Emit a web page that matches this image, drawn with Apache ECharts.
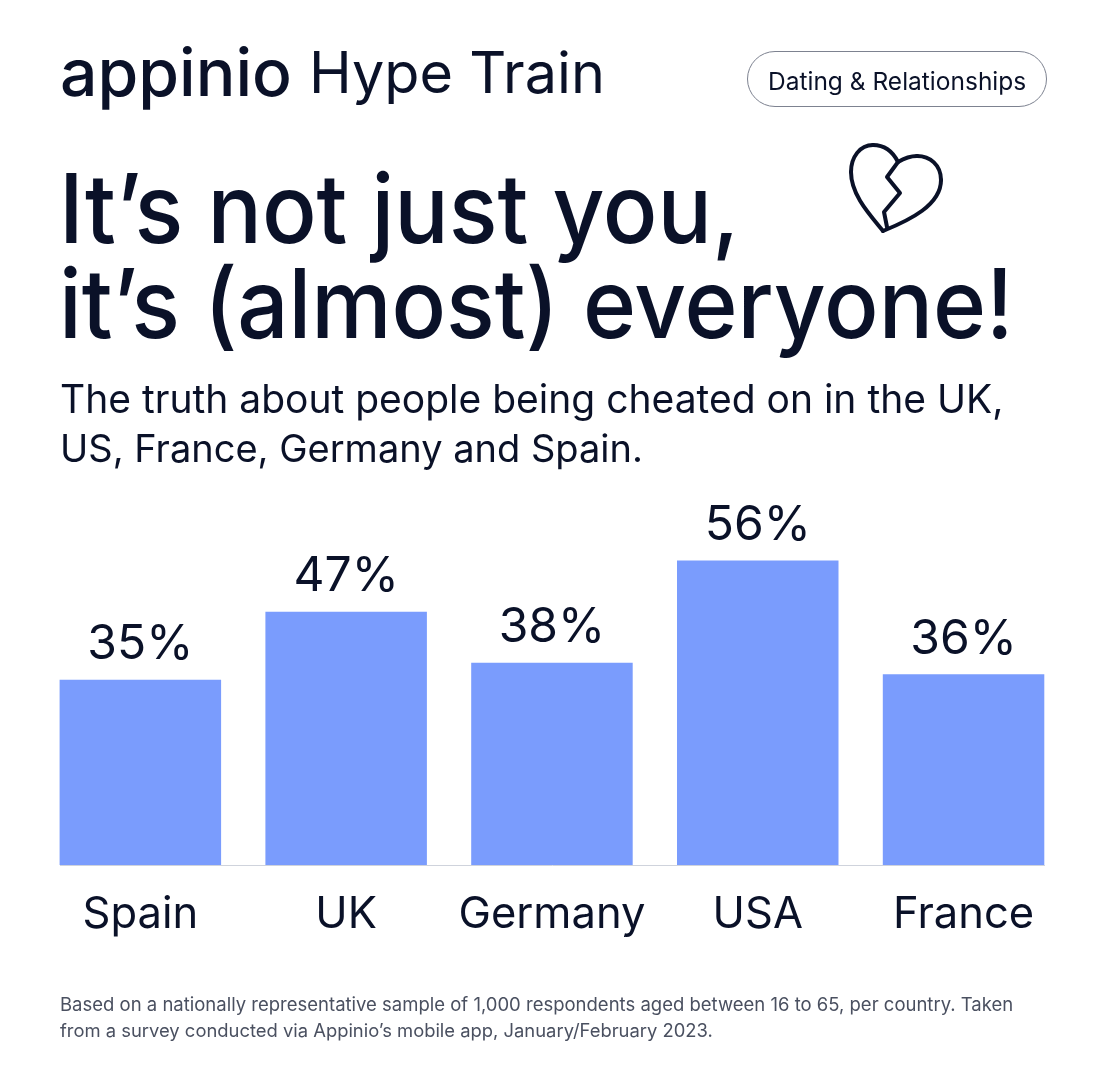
<!DOCTYPE html>
<html>
<head>
<meta charset="utf-8">
<script src="https://cdn.jsdelivr.net/npm/echarts@6/dist/echarts.min.js"></script>
<style>
  html, body { margin: 0; padding: 0; background: #fff; }
  #main { width: 1106px; height: 1092px; }
</style>
</head>
<body>
<div id="main"></div>
<script>
  const categories = ["Spain", "UK", "Germany", "USA", "France"];
  const values = [35, 47, 38, 56, 36];

  const ink = "#0a1128";
  const font = "Inter";

  // all the text around the chart
  function label(text, x, y, size, weight, color, scaleX) {
    return {
      type: "text",
      x: x,
      y: y,
      scaleX: scaleX || 1,
      style: {
        text: text,
        fill: color || ink,
        font: weight + " " + size + "px " + font
      }
    };
  }

  // broken heart icon, stroked pieces
  const heartStyle = { fill: "none", stroke: ink, lineWidth: 4, lineJoin: "round", lineCap: "round" };
  function curve(x1, y1, cpx1, cpy1, cpx2, cpy2, x2, y2) {
    return {
      type: "bezierCurve",
      shape: { x1, y1, cpx1, cpy1, cpx2, cpy2, x2, y2 },
      style: heartStyle
    };
  }

  let myChart = echarts.init(document.getElementById("main"));
  let option = {
    backgroundColor: "#ffffff",
    animation: false,
    grid: { left: 37.45, right: 39.55, top: 537.8, bottom: 227 },
    xAxis: {
      type: "category",
      data: categories,
      axisLine: { show: false },
      axisTick: { show: false },
      axisLabel: { color: ink, fontFamily: font, fontSize: 43.5, margin: 28, interval: 0 }
    },
    yAxis: {
      type: "value",
      min: 2.4,
      max: 60,
      show: false
    },
    series: [
      {
        type: "bar",
        data: values,
        barWidth: 161.5,
        itemStyle: { color: "#7a9cfd" },
        label: {
          show: true,
          position: "top",
          distance: 11,
          formatter: "{c}%",
          color: ink,
          fontFamily: font,
          fontSize: 48
        }
      }
    ],
    graphic: [
      { type: "line", shape: { x1: 60, y1: 865.5, x2: 1045, y2: 865.5 }, style: { stroke: "#cfd3dc", lineWidth: 1 } },
      label("appinio", 60, 43, 66, 500),
      label("Hype Train", 309, 47, 57.5, 400),
      {
        type: "rect",
        shape: { x: 747.5, y: 51.5, width: 299, height: 55, r: 27.5 },
        style: { fill: "none", stroke: "#7d8290", lineWidth: 1 }
      },
      label("Dating & Relationships", 768, 70, 24.5, 400),
      curve(898, 162, 892, 150, 883, 145, 873, 145),
      curve(873, 145, 860, 145, 851, 157, 851, 172),
      curve(851, 172, 851, 195, 870, 215, 883, 231),
      curve(883, 231, 910, 220, 941, 205, 941, 180),
      curve(941, 180, 941, 165, 930, 156, 917, 156),
      curve(917, 156, 910, 156, 903, 159, 898, 162),
      {
        type: "polyline",
        shape: { points: [[898, 162], [887, 177], [900, 193], [884, 212], [887, 227]] },
        style: heartStyle
      },
      label("It’s not just you,", 59, 166, 96, 500, ink, 0.943),
      label("it’s (almost) everyone!", 59, 261, 96, 500, ink, 0.941),
      label("The truth about people being cheated on in the UK,", 60, 382, 39, 400),
      label("US, France, Germany and Spain.", 60, 432, 38, 400),
      label("Based on a nationally representative sample of 1,000 respondents aged between 16 to 65, per country. Taken", 60, 996, 18.5, 400, "#4a5060"),
      label("from a survey conducted via Appinio’s mobile app, January/February 2023.", 60, 1022, 18.4, 400, "#4a5060")
    ]
  };

  myChart.setOption(option);
  window.addEventListener("resize", () => {
    myChart.resize();
  });
</script>
</body>
</html>
